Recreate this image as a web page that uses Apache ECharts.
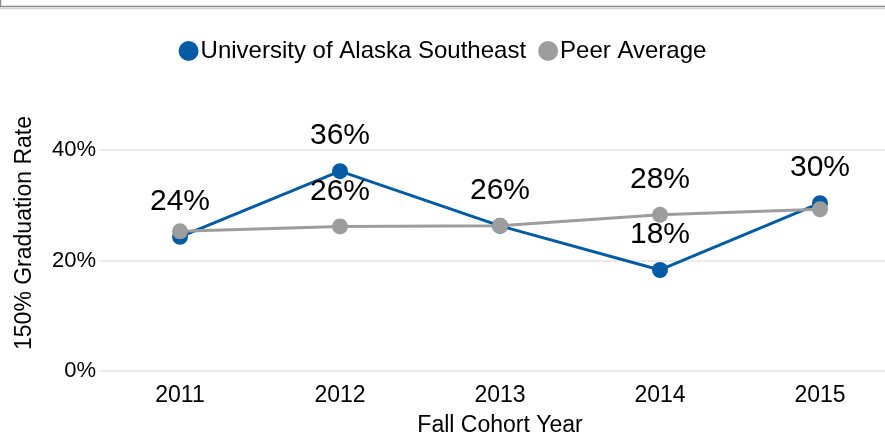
<!DOCTYPE html>
<html>
<head>
<meta charset="utf-8">
<script src="https://cdn.jsdelivr.net/npm/echarts@6/dist/echarts.min.js"></script>
<style>
  html, body { margin: 0; padding: 0; background: #fff; }
  #main { width: 885px; height: 438px; }
</style>
</head>
<body>
<div id="main"></div>
<script>
// values (percent)
var years = ['2011', '2012', '2013', '2014', '2015'];
var uasRate = [24.3, 36.2, 26.3, 18.3, 30.4];
var peerRate = [25.3, 26.2, 26.3, 28.3, 29.3];
var yTicks = [0, 20, 40];

var font = 'Liberation Sans, Arial, sans-serif';
var blue = '#035ba3';
var gray = '#9d9d9d';

var chart = echarts.init(document.getElementById('main'));

var option = {
  animation: false,
  textStyle: { fontFamily: font, color: '#000' },
  graphic: [
    // frame edge of the container above the chart
    { type: 'rect', shape: { x: 0.5, y: -10, width: 900, height: 16.5 },
      style: { fill: 'none', stroke: '#8c8c8c', lineWidth: 1.5 } },
    { type: 'line', shape: { x1: 0, y1: 8.5, x2: 885, y2: 8.5 },
      style: { stroke: '#d6d6d6', lineWidth: 1.5 } }
  ],
  legend: {
    top: 34,
    left: 'center',
    icon: 'circle',
    itemWidth: 20,
    itemHeight: 20,
    itemGap: 12,
    textStyle: { fontFamily: font, fontSize: 24, color: '#000', padding: [0, 0, 0, -3] },
    data: ['University of Alaska Southeast', 'Peer Average']
  },
  grid: { left: 100, width: 800, top: 95, bottom: 67, outerBoundsMode: 'none', containLabel: false },
  xAxis: {
    type: 'category',
    data: years,
    boundaryGap: true,
    name: 'Fall Cohort Year',
    nameLocation: 'middle',
    nameGap: 43,
    nameTextStyle: { fontFamily: font, fontSize: 23, color: '#000' },
    axisLine: { show: false },
    axisTick: { show: false },
    axisLabel: { fontFamily: font, fontSize: 23, color: '#000', margin: 13 }
  },
  yAxis: {
    type: 'value',
    min: yTicks[0],
    max: 50,
    interval: yTicks[1] - yTicks[0],
    name: '150% Graduation Rate',
    nameLocation: 'middle',
    nameGap: 64,
    nameTextStyle: { fontFamily: font, fontSize: 23, color: '#000' },
    axisLine: { show: false },
    axisTick: { show: false },
    axisLabel: {
      fontFamily: font, fontSize: 22, color: '#000', margin: 4,
      showMaxLabel: false,
      formatter: function (v) { return v + '%'; }
    },
    splitLine: { show: true, showMaxLine: false, lineStyle: { color: '#e3e3e3', width: 1.5 } }
  },
  series: [
    {
      name: 'University of Alaska Southeast',
      type: 'line',
      data: uasRate,
      color: blue,
      symbol: 'circle',
      symbolSize: 16,
      lineStyle: { width: 3, color: blue },
      itemStyle: { color: blue },
      label: {
        show: true, position: 'top', distance: 12,
        fontFamily: font, fontSize: 30, color: '#000',
        formatter: function (p) { return Math.round(p.value) + '%'; }
      }
    },
    {
      name: 'Peer Average',
      type: 'line',
      data: peerRate,
      color: gray,
      symbol: 'circle',
      symbolSize: 16,
      lineStyle: { width: 3, color: gray },
      itemStyle: { color: gray },
      label: {
        show: true, position: 'top', distance: 12,
        fontFamily: font, fontSize: 30, color: '#000',
        // labels that sit on top of the other series' label are not drawn
        formatter: function (p) {
          if (Math.abs(p.value - uasRate[p.dataIndex]) < 3) return '';
          return Math.round(p.value) + '%';
        }
      }
    }
  ]
};

chart.setOption(option);
</script>
</body>
</html>
